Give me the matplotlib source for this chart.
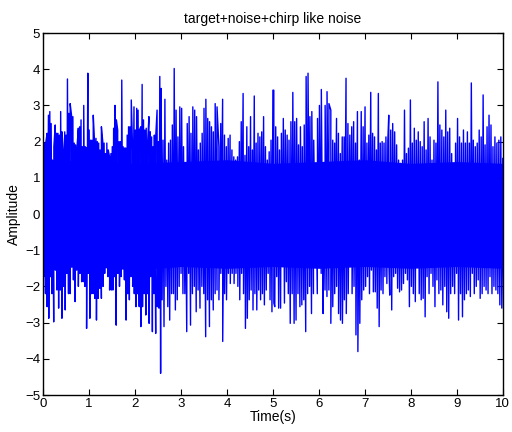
import numpy as np
import matplotlib
matplotlib.use("Agg")
import matplotlib.pyplot as plt

plt.rcParams['font.family'] = ['Liberation Sans', 'DejaVu Sans']

# upper / lower peaks of the signal, in four time segments
seg_ranges = [(0.0, 2.54), (2.57, 5.0), (5.02, 7.5), (7.52, 10.0)]

upper1 = [2.55, 1.96, 1.96, 2.23, 2.73, 2.83, 2.5, 1.49, 1.86, 2.46, 2.23, 2.23, 2.18, 2.83,
          2.27, 1.72, 2.27, 2.18, 3.73, 2.78, 3.05, 2.73, 2.69, 1.96, 1.91, 1.82, 2.37, 2.41,
          2.6, 1.86, 3.0, 1.86, 1.82, 3.89, 2.32, 2.04, 2.04, 2.73, 1.96, 2.09, 2.0,
          1.96, 1.77, 2.41, 2.0, 1.96, 1.67, 1.96, 1.77, 1.58, 1.67, 1.86, 2.37, 3.0, 2.6,
          2.32, 2.0, 2.0, 3.7, 1.86, 1.82, 1.82, 2.18, 2.41, 2.41, 3.15, 1.77, 2.96, 2.32,
          2.92, 2.87, 2.32, 2.41, 3.58, 2.6, 2.32, 2.37, 1.96, 2.69, 2.27, 2.13, 1.86, 2.18,
          2.13, 2.87, 2.0, 3.8]
lower1 = [-1.73, -2.2, -2.56, -2.88, -1.73, -2.2, -2.98, -1.55, -2.1, -2.6, -2.1, -2.88,
          -2.0, -2.65, -1.64, -2.2, -2.2, -1.45, -1.82, -2.42, -1.55, -2.0, -1.64, -1.87,
          -1.87, -2.0, -3.16, -1.64, -2.88, -2.2, -2.2, -2.33, -2.93, -2.33, -2.05, -2.33,
          -2.0, -1.64, -1.45, -1.73, -2.1, -2.1, -2.1, -1.73, -3.07, -1.64, -2.0, -1.73,
          -1.27, -1.82, -2.93, -2.2, -2.37, -1.73, -2.0, -2.2, -2.56, -2.2, -2.56, -3.11,
          -2.56, -2.2, -2.79, -2.2, -3.02, -1.73, -3.25, -2.2, -3.3, -2.56, -2.6, -4.4]

upper2 = [3.47, 2.04, 3.17, 1.49, 1.96, 2.04, 2.46, 4.02, 2.87, 2.13, 2.96, 2.92, 1.86,
          1.22, 2.5, 2.69, 2.23, 2.96, 2.87, 2.69, 1.77, 1.96, 2.23, 2.92, 3.17, 2.64, 2.55,
          2.41, 2.27, 3.05, 2.96, 1.86, 2.5, 3.17, 2.18, 1.86, 2.09, 2.18, 1.77, 1.58, 1.49,
          1.58, 2.0, 2.55, 3.33, 1.62, 2.41, 1.86, 2.69, 1.77, 3.26, 1.96, 2.23, 2.13, 2.27,
          2.69, 1.86, 1.49, 1.72, 2.04, 3.42]
lower2 = [-2.37, -3.11, -2.0, -2.56, -2.93, -2.2, -2.2, -2.65, -2.37, -2.0, -1.64, -2.2,
          -2.2, -3.25, -1.64, -3.07, -2.2, -2.0, -2.7, -2.1, -2.6, -2.0, -2.2, -3.39, -2.37,
          -3.11, -2.37, -2.65, -2.2, -2.1, -2.37, -1.64, -3.52, -2.2, -2.37, -1.64, -1.92,
          -1.64, -1.92, -1.64, -2.0, -2.37, -1.64, -2.2, -3.16, -2.88, -2.37, -2.1, -2.65,
          -2.2, -2.65, -2.1, -2.37, -2.2, -2.51, -2.1, -1.64, -2.37, -2.7, -2.46]

upper3 = [3.42, 2.41, 2.13, 1.77, 2.23, 2.64, 2.32, 2.18, 2.04, 2.55, 3.36, 2.55, 2.64,
          1.91, 2.41, 1.86, 2.46, 3.8, 3.89, 2.69, 2.83, 2.04, 1.3, 2.64, 3.0, 3.44, 1.3,
          3.0, 3.38, 3.05, 2.87, 2.04, 1.96, 2.64, 2.23, 1.67, 2.13, 2.13, 3.75, 2.5, 2.18,
          2.41, 2.55, 1.96, 2.83, 1.49, 2.83, 2.41, 2.96, 1.96, 2.18, 3.36, 2.23, 2.13, 1.77,
          3.33, 1.96, 2.0, 1.96, 2.13, 2.04]
lower3 = [-2.56, -1.73, -2.6, -2.6, -1.45, -2.46, -1.87, -2.2, -3.02, -2.2, -3.02, -2.93,
          -2.2, -2.56, -2.51, -2.37, -3.25, -2.2, -2.0, -2.75, -2.2, -1.18, -2.2, -1.27,
          -1.64, -2.75, -2.1, -2.28, -2.1, -3.02, -2.56, -2.2, -2.0, -2.75, -2.93, -3.02,
          -2.37, -2.75, -2.2, -1.45, -2.2, -2.0, -3.34, -3.8, -3.02, -2.37, -2.1, -2.0,
          -1.73, -2.2, -1.55, -2.15, -2.15, -2.6, -3.11, -2.1, -2.2, -1.73, -1.92, -1.27]

upper4 = [2.73, 2.32, 2.5, 2.27, 1.91, 1.49, 1.4, 1.49, 2.87, 1.67, 1.82, 3.15, 1.96, 2.37,
          2.04, 2.27, 2.0, 1.86, 2.55, 1.77, 2.64, 2.13, 1.49, 2.04, 1.96, 3.65, 2.46, 2.32,
          2.13, 2.87, 2.27, 2.37, 1.67, 1.3, 1.96, 2.64, 2.13, 1.96, 2.32, 1.96, 2.27, 1.96,
          3.62, 2.04, 1.86, 1.96, 2.32, 2.13, 3.29, 1.91, 2.41, 2.73, 2.46, 1.86, 2.13, 1.96,
          2.04, 2.13, 1.54]
lower4 = [-2.24, -2.65, -1.73, -1.64, -2.05, -2.15, -2.1, -1.92, -1.64, -1.82, -2.56, -2.0,
          -2.2, -2.42, -1.45, -2.2, -2.37, -2.33, -2.84, -1.73, -2.2, -1.64, -2.0, -2.56,
          -1.82, -2.2, -2.1, -2.51, -2.0, -2.7, -2.88, -2.2, -2.0, -2.2, -1.64, -2.93, -2.2,
          -2.84, -2.37, -2.2, -2.1, -2.28, -1.64, -2.2, -2.0, -1.82, -2.33, -2.2, -2.0, -2.1,
          -2.2, -1.73, -2.2, -2.0, -2.1, -2.2, -2.51, -2.6, -3.11]

# edges of the solid core of the trace, once per second
core_t = [0, 1, 2, 3, 4, 5, 6, 7, 8, 9, 10]
core_top = [1.45, 1.5, 1.4, 1.45, 1.5, 1.4, 1.45, 1.5, 1.4, 1.45, 1.4]
core_bottom = [-1.5, -1.45, -1.55, -1.45, -1.5, -1.45, -1.5, -1.45, -1.5, -1.45, -1.5]

uppers = [upper1, upper2, upper3, upper4]
lowers = [lower1, lower2, lower3, lower4]

ts = []
vs = []
for (t0, t1), up, lo in zip(seg_ranges, uppers, lowers):
    ts += list(np.linspace(t0, t1, len(up)))
    vs += up
    # lower peaks sit half a step after the upper ones so the trace zigzags
    half = 0.5 * (t1 - t0) / (len(lo) - 1)
    ts += list(np.linspace(t0, t1, len(lo)) + half)
    vs += lo
ts = np.array(ts)
vs = np.array(vs)
order = np.argsort(ts, kind='stable')
ts = ts[order]
vs = vs[order]

fig = plt.figure(figsize=(5.12, 4.32), dpi=100)
ax = fig.add_axes([0.084, 0.0856, 0.898, 0.838])
ax.fill_between(core_t, core_bottom, core_top, color='#0000ff', linewidth=0)
ax.plot(ts, vs, color='#0000ff', linewidth=1.0)

ax.set_xlim(0, 10)
ax.set_ylim(-5, 5)
ax.set_xticks(np.arange(0, 11, 1))
ax.set_yticks(np.arange(-5, 6, 1))
ax.tick_params(direction='in', top=True, right=True, length=4, width=0.8,
               labelsize=9.5, pad=2)
for s in ax.spines.values():
    s.set_linewidth(1.0)

ax.set_title('target+noise+chirp like noise', fontsize=10, pad=7)
ax.set_xlabel('Time(s)', fontsize=10, labelpad=0)
ax.set_ylabel('Amplitude', fontsize=10, labelpad=3)

fig.savefig('out.png', dpi=100)
